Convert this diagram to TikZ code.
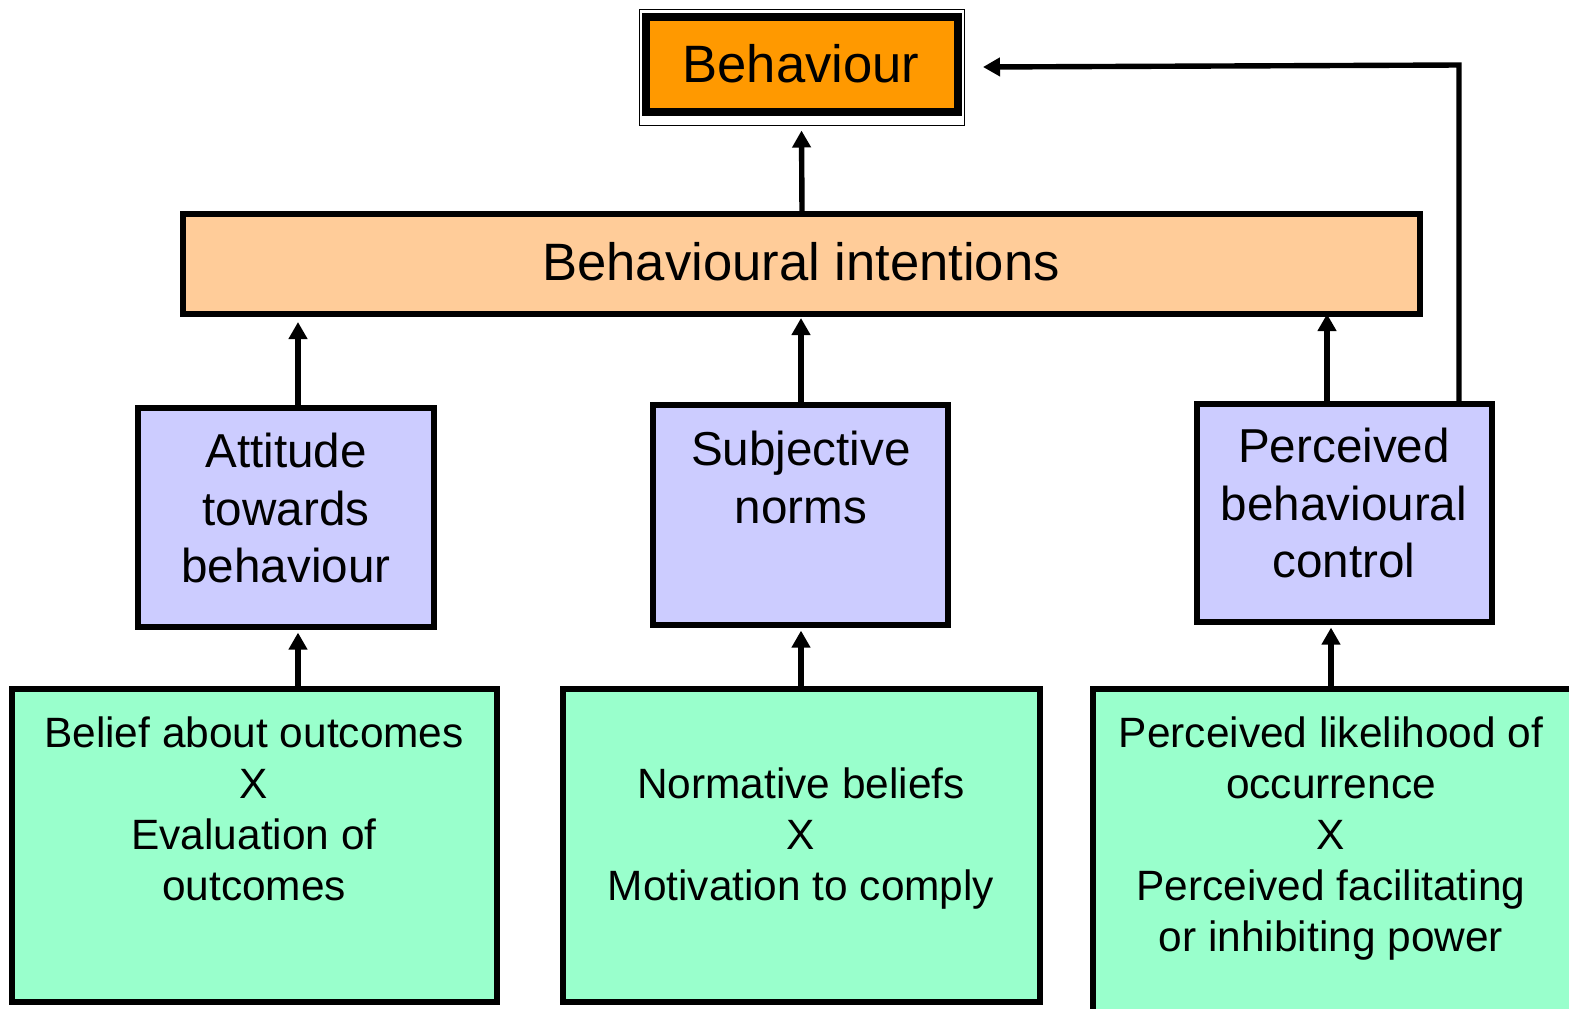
\documentclass[tikz,border=0pt]{standalone}
\usepackage{fontspec}
\setmainfont{Liberation Sans}
\usetikzlibrary{arrows.meta,fit}
\definecolor{orangeB}{HTML}{FF9900}
\definecolor{peach}{HTML}{FFCC99}
\definecolor{lav}{HTML}{CCCCFF}
\definecolor{mint}{HTML}{99FFCC}
\tikzset{
  box/.style={draw=black, line width=2.6pt, inner sep=0pt, rectangle},
  conn/.style={line width=2.7pt, -{Triangle[length=8.5pt,width=9pt]}},
  plain/.style={line width=2.6pt},
  big/.style={font=\fontsize{26.3pt}{30pt}\selectfont, inner sep=0pt},
  mid/.style={font=\fontsize{23.8pt}{28.75pt}\selectfont, align=center, inner sep=0pt, anchor=north},
  small/.style={font=\fontsize{21.2pt}{25.6pt}\selectfont, align=center, inner sep=0pt, anchor=north},
}
\begin{document}
\begin{tikzpicture}[x=0.5pt,y=-0.5pt]
\useasboundingbox[fill=white] (0,0) rectangle (1569,1008);
% Behaviour box
\node[draw=black, line width=0.5pt, inner sep=0pt, fit={(639,9) (964,125)}] (behout) {};
\node[box, fill=orangeB, line width=4pt, fit={(646,16.5) (958,111.5)}] (beh) {};
\node[big] (behtxt) at (801,64) {Behaviour};
% Intentions
\node[box, fill=peach, fit={(183,214) (1420,314)}] (int) {};
\node[big] (inttxt) at (801,262) {Behavioural intentions};
% Middle row
\node[box, fill=lav, fit={(138,408) (434,627)}] (att) {};
\node[mid] (atttxt) at (286,433) {Attitude\\towards\\behaviour};
\node[box, fill=lav, fit={(653,405) (948,625)}] (sub) {};
\node[mid] (subtxt) at (801,431) {Subjective\\norms};
\node[box, fill=lav, fit={(1197,404) (1492,622)}] (pbc) {};
\node[mid] (pbctxt) at (1344,428) {Perceived\\behavioural\\control};
% Bottom row
\node[box, fill=mint, fit={(12,689) (497,1002)}] (g1) {};
\node[small] (g1txt) at (254,716) {Belief about outcomes\\X\\Evaluation of\\outcomes};
\node[box, fill=mint, fit={(563,689) (1040,1002)}] (g2) {};
\node[small] (g2txt) at (801,767) {Normative beliefs\\X\\Motivation to comply};
\node[box, fill=mint, fit={(1093,689) (1572,1015)}] (g3) {};
\node[small] (g3txt) at (1331,716) {Perceived likelihood of\\occurrence\\X\\Perceived facilitating\\or inhibiting power};
% Connectors
\draw[conn] (int.north -| beh.south) -- ([yshift=-2.5pt]behout.south);
\draw[conn] (att.north -| 298,0) -- (298,322);
\draw[conn] (sub.north -| 801,0) -- (801,318);
\draw[conn] (pbc.north -| 1327,0) -- (1327,314);
\draw[conn] (g1.north -| 298,0) -- ([yshift=-1.5pt]att.south -| 298,0);
\draw[conn] (g2.north -| 801,0) -- ([yshift=-1.5pt]sub.south -| 801,0);
\draw[conn] (g3.north -| 1331,0) -- ([yshift=-1.5pt]pbc.south -| 1331,0);
\coordinate (corner) at (1459,65);
\draw[conn] (pbc.north -| corner) -- (corner) -- (983,67);
\end{tikzpicture}
\end{document}
